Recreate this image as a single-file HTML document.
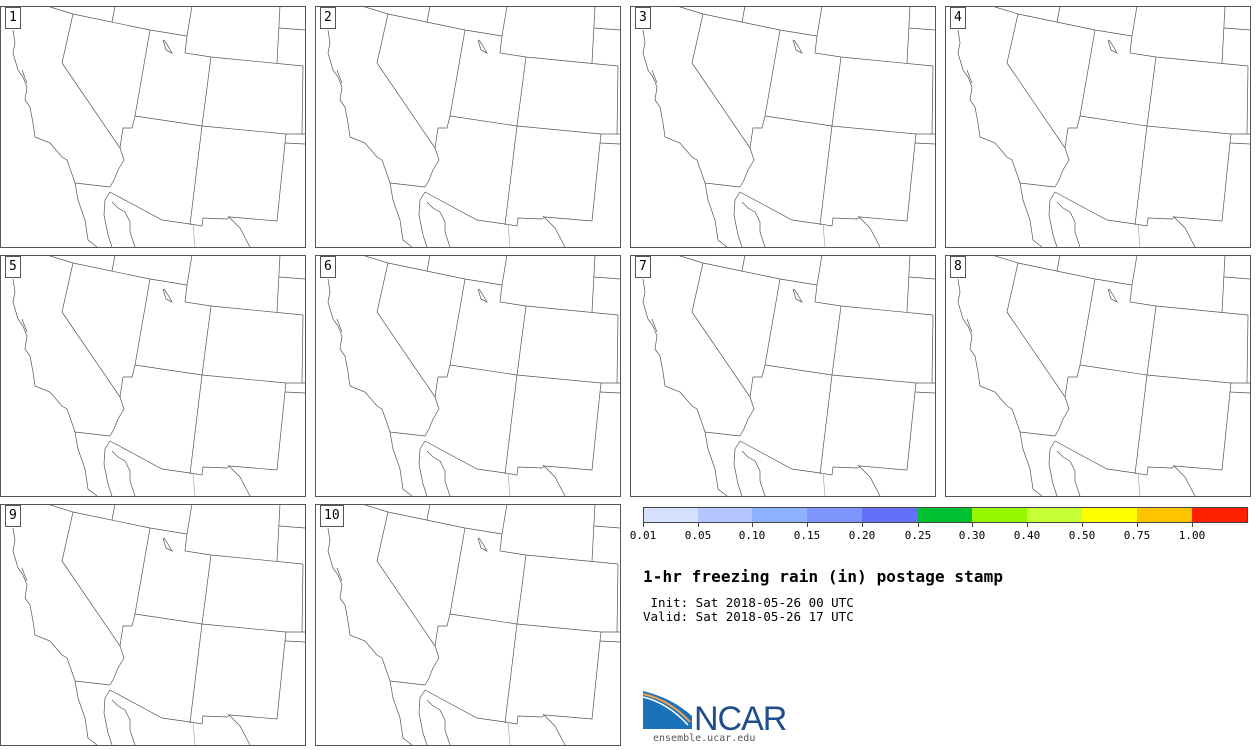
<!DOCTYPE html>
<html><head><meta charset="utf-8"><style>
body{margin:0;width:1260px;height:746px;background:#fff;position:relative;overflow:hidden;font-family:"DejaVu Sans Mono","Liberation Mono",monospace}
.p{position:absolute;width:306px;height:242px}
.lab{position:absolute;left:5px;top:1px;border:1px solid #555;background:#fff;font-size:13px;padding:2px 3px;line-height:16px}
</style></head><body>
<svg width="0" height="0" style="position:absolute"><defs>
<g id="m" fill="none" stroke="#555" stroke-width="0.7">
<rect x="0.5" y="0.5" width="305" height="241" stroke="#555" stroke-width="1"/>
<g transform="translate(0,-6)">
<polyline points="47,6 73,14 150,30 187,36"/>
<polyline points="73,14 62,63 120,148"/>
<polyline points="150,30 135,116 132,128 123,128 120,148 124,160 118,170 114,180 110,187"/>
<polyline points="135,116 202,126 286,134 305,134"/>
<polyline points="192,6 187,36 185,53 211,57 303,66"/>
<polyline points="211,57 202,126 190,225"/>
<polyline points="286,134 285,143 277,221 230,217 227,219 203,218 202,226 190,224 162,220 110,192"/>
<polyline points="285,143 305,144"/>
<polyline points="75,183 110,187"/>
<polyline points="228,216 240,228 250,247"/>
<polyline points="115,6 112,22"/>
<polyline points="280,6 277,63"/>
<polyline points="279,28 305,30"/>
<polyline points="303,66 302,134"/>
<polyline points="13,30 15,43 13,53 18,70 23,77 27,87 25,100 30,107 33,123 35,137 50,143 62,157 67,160 73,177 75,183 78,200 85,220 88,240 97,247"/>
<polyline points="110,192 105,200 104,215 108,235 112,247"/>
<polyline points="112,202 118,208 125,212 130,222 130,232 135,247"/>
<polyline points="163,40 166,50 172,53 168,46 164,40"/>
<polyline points="22,70 25,78 27,83"/>
<polyline points="193,224 195,247" stroke="#aaa"/>
</g></g></defs></svg>

<div class="p" style="left:0;top:6px"><svg width="306" height="242"><use href="#m"/></svg><div class="lab">1</div></div>
<div class="p" style="left:315px;top:6px"><svg width="306" height="242"><use href="#m"/></svg><div class="lab">2</div></div>
<div class="p" style="left:630px;top:6px"><svg width="306" height="242"><use href="#m"/></svg><div class="lab">3</div></div>
<div class="p" style="left:945px;top:6px"><svg width="306" height="242"><use href="#m"/></svg><div class="lab">4</div></div>
<div class="p" style="left:0;top:255px"><svg width="306" height="242"><use href="#m"/></svg><div class="lab">5</div></div>
<div class="p" style="left:315px;top:255px"><svg width="306" height="242"><use href="#m"/></svg><div class="lab">6</div></div>
<div class="p" style="left:630px;top:255px"><svg width="306" height="242"><use href="#m"/></svg><div class="lab">7</div></div>
<div class="p" style="left:945px;top:255px"><svg width="306" height="242"><use href="#m"/></svg><div class="lab">8</div></div>
<div class="p" style="left:0;top:504px"><svg width="306" height="242"><use href="#m"/></svg><div class="lab">9</div></div>
<div class="p" style="left:315px;top:504px"><svg width="306" height="242"><use href="#m"/></svg><div class="lab">10</div></div>

<svg style="position:absolute;left:0;top:0" width="1260" height="746">
<g stroke="none">
<rect x="643" y="507" width="55" height="16" fill="#d6e0ff"/>
<rect x="698" y="507" width="55" height="16" fill="#b4c7ff"/>
<rect x="752" y="507" width="55" height="16" fill="#8eb2ff"/>
<rect x="807" y="507" width="55" height="16" fill="#7f96ff"/>
<rect x="862" y="507" width="56" height="16" fill="#6370f8"/>
<rect x="918" y="507" width="55" height="16" fill="#00c132"/>
<rect x="972" y="507" width="55" height="16" fill="#96f700"/>
<rect x="1027" y="507" width="55" height="16" fill="#c6ff35"/>
<rect x="1082" y="507" width="55" height="16" fill="#ffff00"/>
<rect x="1137" y="507" width="55" height="16" fill="#ffc400"/>
<rect x="1192" y="507" width="56" height="16" fill="#ff2000"/>
</g>
<rect x="643.5" y="507.5" width="604" height="15" fill="none" stroke="#444"/>
<g stroke="#444"><line x1="643.5" y1="523" x2="643.5" y2="527"/><line x1="698.5" y1="523" x2="698.5" y2="527"/><line x1="752.5" y1="523" x2="752.5" y2="527"/><line x1="807.5" y1="523" x2="807.5" y2="527"/><line x1="862.5" y1="523" x2="862.5" y2="527"/><line x1="918.5" y1="523" x2="918.5" y2="527"/><line x1="972.5" y1="523" x2="972.5" y2="527"/><line x1="1027.5" y1="523" x2="1027.5" y2="527"/><line x1="1082.5" y1="523" x2="1082.5" y2="527"/><line x1="1137.5" y1="523" x2="1137.5" y2="527"/><line x1="1192.5" y1="523" x2="1192.5" y2="527"/></g>
<g font-family="DejaVu Sans Mono, Liberation Mono, monospace" font-size="11" text-anchor="middle" fill="#000">
<text x="643" y="539">0.01</text><text x="698" y="539">0.05</text><text x="752" y="539">0.10</text><text x="807" y="539">0.15</text><text x="862" y="539">0.20</text><text x="918" y="539">0.25</text><text x="972" y="539">0.30</text><text x="1027" y="539">0.40</text><text x="1082" y="539">0.50</text><text x="1137" y="539">0.75</text><text x="1192" y="539">1.00</text>
</g>
<g font-family="DejaVu Sans Mono, Liberation Mono, monospace" fill="#000">
<text x="643" y="582" font-size="16" font-weight="bold" textLength="360">1-hr freezing rain (in) postage stamp</text>
<text x="643" y="607" font-size="12.5" xml:space="preserve"> Init: Sat 2018-05-26 00 UTC</text>
<text x="643" y="621" font-size="12.5">Valid: Sat 2018-05-26 17 UTC</text>
</g>
<path d="M643,691 Q672,698 692,716 L692,729 L643,729 Z" fill="#1a73b8"/>
<path d="M643,694 Q670,700 690,722" stroke="#f0a050" stroke-width="2" fill="none"/>
<path d="M643,697 Q668,703 688,725" stroke="#fff" stroke-width="1.5" fill="none"/>
<text x="694" y="730" font-family="Liberation Sans, sans-serif" font-size="34" fill="#1f4e8c" letter-spacing="-1">NCAR</text>
<text x="653" y="741" font-family="DejaVu Sans Mono, monospace" font-size="10" fill="#555">ensemble.ucar.edu</text>
</svg>
</body></html>
